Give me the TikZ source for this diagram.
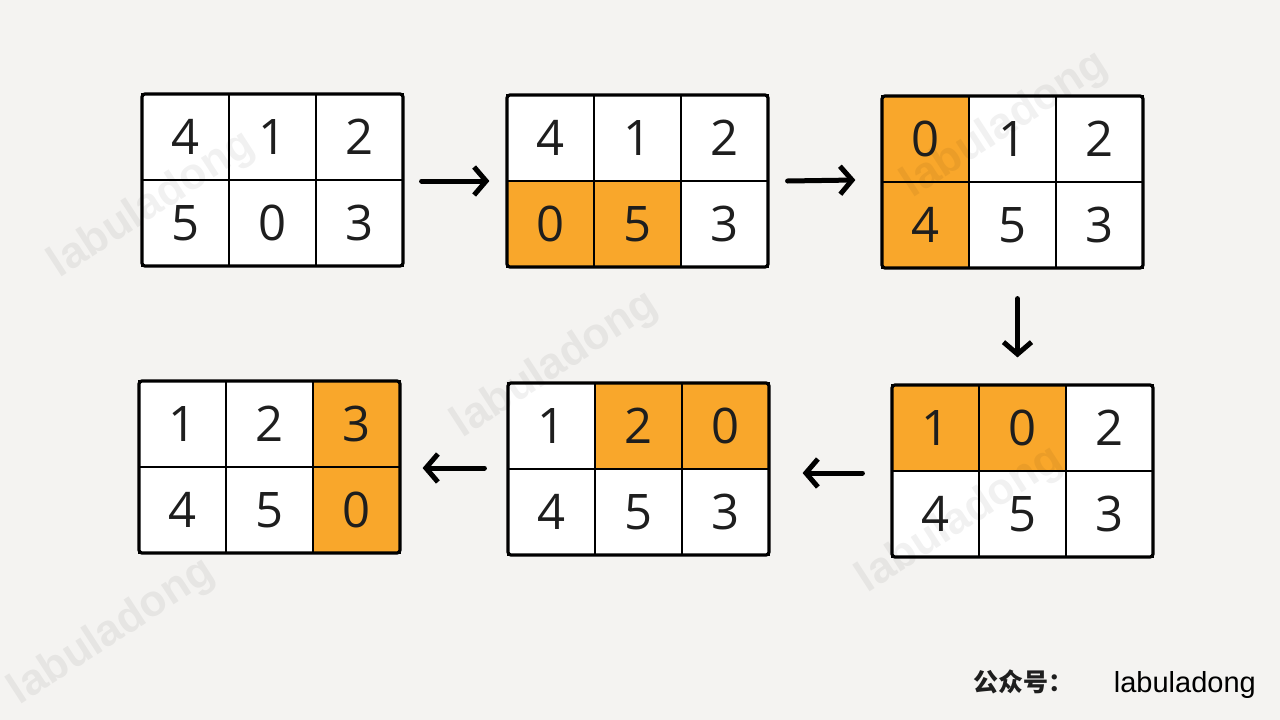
\documentclass[tikz,border=0pt]{standalone}
\usepackage{fontspec}
\usetikzlibrary{arrows.meta,calc}
\newfontfamily\digitfont{Open Sans}
\newfontfamily\wmfont{Liberation Sans}
\newfontfamily\brandfont{Liberation Sans}
\newfontfamily\cjkfont{Noto Sans CJK SC}
\definecolor{bgc}{HTML}{F4F3F1}
\definecolor{hot}{HTML}{F9A72B}
\definecolor{ink}{HTML}{1E1E1E}
\newcommand\mygrid[4]{%
  \foreach \r/\c/\v/\s in {#4}{%
    \node[cell,\s] (#1-\r\c) at ({#2+43.5+87*(\c-1)},{#3+43+86*(\r-1)}) {\v};
  }
  \node[frame] (#1) at ({#2+130.5},{#3+86}) {};
}
\begin{document}
\begin{tikzpicture}[x=1pt,y=-1pt,
  cell/.style={draw=black,line width=2.8pt,minimum width=87pt,minimum height=86pt,inner sep=0pt,
    font=\digitfont\fontsize{49}{49}\selectfont,text=ink},
  cellw/.style={fill=white},
  cello/.style={fill=hot},
  frame/.style={draw=black,line width=3.2pt,rounded corners=3pt,minimum width=261pt,minimum height=172pt,inner sep=0pt},
  arr/.style={line width=5pt,line cap=round,line join=round,-{Straight Barb[length=12pt,width=28pt,line width=5pt]}},
  wmark/.style={text=black,text opacity=0.055,font=\wmfont\bfseries\fontsize{44}{44}\selectfont,rotate=33}
]
\fill[bgc] (0,0) rectangle (1280,720);
\useasboundingbox (0,0) rectangle (1280,720);

\mygrid{g1}{142}{94}{1/1/4/cellw,1/2/1/cellw,1/3/2/cellw,2/1/5/cellw,2/2/0/cellw,2/3/3/cellw}
\mygrid{g2}{507}{95}{1/1/4/cellw,1/2/1/cellw,1/3/2/cellw,2/1/0/cello,2/2/5/cello,2/3/3/cellw}
\mygrid{g3}{882}{96}{1/1/0/cello,1/2/1/cellw,1/3/2/cellw,2/1/4/cello,2/2/5/cellw,2/3/3/cellw}
\mygrid{g4}{892}{385}{1/1/1/cello,1/2/0/cello,1/3/2/cellw,2/1/4/cellw,2/2/5/cellw,2/3/3/cellw}
\mygrid{g5}{508}{383}{1/1/1/cellw,1/2/2/cello,1/3/0/cello,2/1/4/cellw,2/2/5/cellw,2/3/3/cellw}
\mygrid{g6}{139}{381}{1/1/1/cellw,1/2/2/cellw,1/3/3/cello,2/1/4/cellw,2/2/5/cellw,2/3/0/cello}

\draw[arr] ($(g1.east)+(17,1)$) -- ($(g2.west)+(-16,0)$);
\draw[arr] ($(g2.east)+(18,0)$) -- ($(g3.west)+(-25,-2)$);
\draw[arr] ($(g3.south)+(5,29)$) -- ($(g4.north)+(-5,-26)$);
\draw[arr] ($(g4.west)+(-28,2)$) -- ($(g5.east)+(32,4)$);
\draw[arr] ($(g5.west)+(-22,-1)$) -- ($(g6.east)+(21,1)$);

\node[anchor=base west,inner sep=0pt,font=\cjkfont\bfseries\fontsize{25}{25}\selectfont,text=ink] (pub) at (973,691) {公众号：};
\node[anchor=base east,inner sep=0pt,font=\brandfont\fontsize{29}{29}\selectfont,text=black] (brand) at (1256,692) {labuladong};

\node[wmark] (w1) at (152,205) {labuladong};
\node[wmark] (w2) at (555,365) {labuladong};
\node[wmark] (w3) at (1005,125) {labuladong};
\node[wmark] (w4) at (960,520) {labuladong};
\node[wmark] (w5) at (112,632) {labuladong};
\end{tikzpicture}
\end{document}
